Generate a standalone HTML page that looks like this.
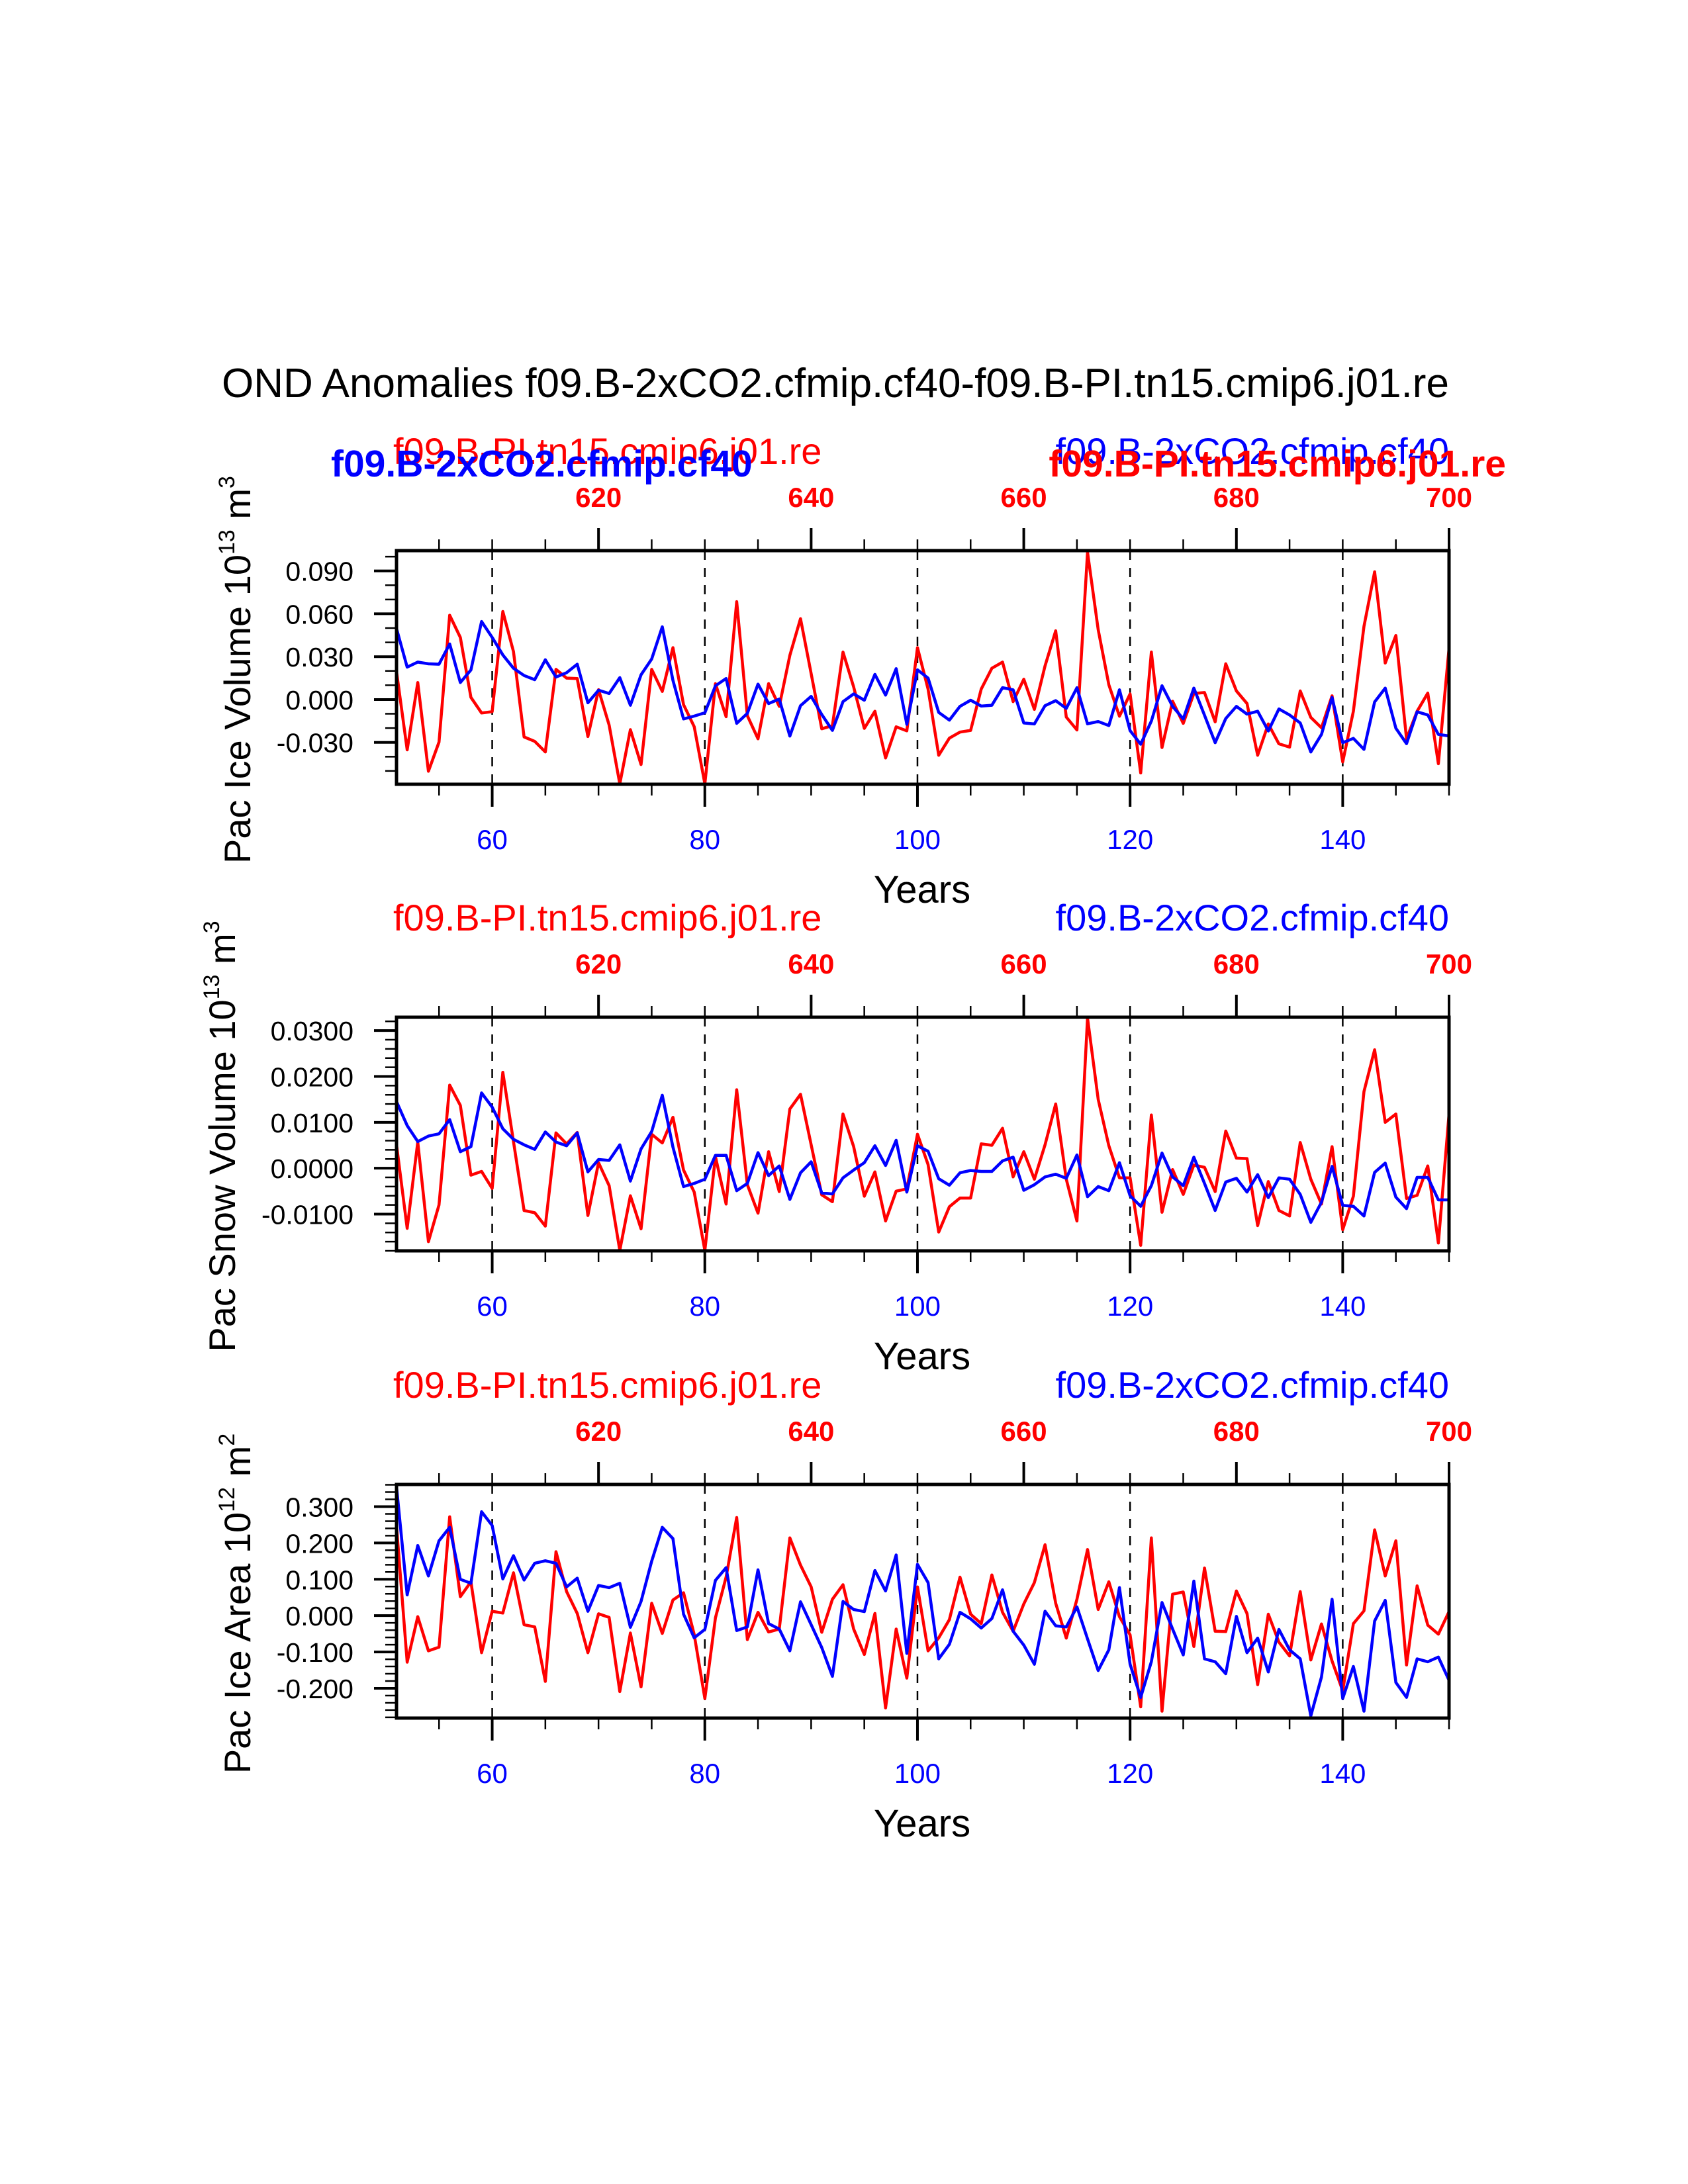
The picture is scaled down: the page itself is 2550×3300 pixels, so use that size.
<!DOCTYPE html>
<html><head><meta charset="utf-8"><title>OND Anomalies</title>
<style>html,body{margin:0;padding:0;background:#fff}svg{display:block}text{font-family:"Liberation Sans",Arial,sans-serif}</style>
</head><body>
<svg id="chart" xmlns="http://www.w3.org/2000/svg" width="2550" height="3300" viewBox="0 0 2550 3300">
<rect x="0" y="0" width="2550" height="3300" fill="#fff"/>
<text x="1262" y="600" font-size="62" text-anchor="middle" fill="#000">OND Anomalies f09.B-2xCO2.cfmip.cf40-f09.B-PI.tn15.cmip6.j01.re</text>
<g id="plots"></g>
</svg>
<script>
// Years (bottom axis, experiment); top axis = year + 550 (control)
const years = Array.from({length:100},(_,i)=>51+i);
const topOffset = 550;
const bottomTickLabels = [60,80,100,120,140];
const topTickLabels = [620,640,660,680,700];

// Panel 1: Pac Ice Volume (units of 0.01 x 10^13 m^3)
const iceVolBlue = [4.97,2.27,2.62,2.5,2.47,3.89,1.19,2.07,5.46,4.35,3.12,2.19,1.68,1.39,2.78,1.57,1.88,2.47,-0.23,0.65,0.42,1.53,-0.4,1.73,2.84,5.09,1.34,-1.36,-1.16,-0.93,0.96,1.47,-1.67,-0.97,1.08,-0.28,0.03,-2.56,-0.43,0.22,-1.05,-2.16,-0.15,0.39,-0.05,1.76,0.31,2.16,-1.74,2.08,1.5,-0.9,-1.44,-0.48,-0.05,-0.46,-0.4,0.83,0.68,-1.64,-1.71,-0.43,-0.08,-0.62,0.83,-1.7,-1.54,-1.82,0.68,-2.18,-3.13,-1.51,0.96,-0.48,-1.36,0.8,-1.1,-3.02,-1.33,-0.48,-1.02,-0.82,-2.2,-0.66,-1.08,-1.64,-3.67,-2.44,0.14,-3.02,-2.72,-3.49,-0.17,0.8,-2.01,-3.09,-0.86,-1.08,-2.44,-2.55];
const iceVolRed = [1.96,-3.52,1.19,-5.02,-2.98,5.9,4.35,0.15,-0.94,-0.85,6.16,3.35,-2.62,-2.93,-3.67,2.11,1.5,1.47,-2.59,0.69,-1.79,-5.9,-2.11,-4.55,2.11,0.57,3.63,-0.36,-1.9,-5.9,1.11,-1.2,6.85,-1.13,-2.75,1.11,-0.48,3.09,5.66,1.81,-2.05,-1.82,3.32,0.88,-2.02,-0.82,-4.09,-1.91,-2.19,3.63,0.73,-3.9,-2.7,-2.28,-2.16,0.73,2.19,2.62,-0.15,1.42,-0.69,2.35,4.81,-1.23,-2.13,10.3,4.89,1.03,-1.17,0.39,-5.14,3.32,-3.36,-0.12,-1.67,0.42,0.49,-1.56,2.5,0.6,-0.28,-3.9,-1.71,-3.1,-3.33,0.6,-1.25,-1.98,0.26,-4.37,-0.82,5.12,8.94,2.55,4.48,-2.75,-0.82,0.45,-4.49,3.58];
const iceVolTicks = ["-0.030","0.000","0.030","0.060","0.090"];

// Panel 2: Pac Snow Volume (units of 0.001 x 10^13 m^3)
const snowBlue = [14.5,9.3,5.8,7.0,7.5,10.6,3.6,4.7,16.4,13.3,8.6,6.3,5.1,4.1,7.9,5.7,4.9,7.7,-0.8,1.9,1.7,5.1,-2.8,4.2,8.0,15.9,4.6,-4.0,-3.3,-2.4,2.8,2.8,-4.9,-3.3,3.4,-1.6,0.5,-6.8,-1.0,1.4,-5.4,-5.6,-2.1,-0.4,1.2,4.9,0.6,6.1,-5.2,4.9,3.7,-2.3,-3.7,-1.0,-0.5,-0.7,-0.7,1.6,2.4,-4.8,-3.6,-1.9,-1.3,-2.2,2.9,-6.2,-4.0,-4.9,1.2,-6.0,-8.3,-3.8,3.3,-1.9,-3.8,2.4,-3.3,-9.2,-3.0,-2.2,-5.2,-1.4,-6.4,-2.1,-2.4,-5.7,-11.8,-7.4,0.4,-8.1,-8.3,-10.4,-0.9,1.1,-6.3,-8.8,-2.0,-2.0,-6.9,-6.9];
const snowRed = [5.1,-13.1,5.7,-16.0,-8.0,18.1,13.7,-1.5,-0.7,-4.4,20.9,5.8,-9.2,-9.7,-12.6,7.7,5.3,7.8,-10.3,1.2,-3.8,-17.9,-6.0,-13.2,7.4,5.5,11.1,-0.4,-5.2,-17.9,2.5,-7.8,17.1,-3.6,-9.8,3.6,-5.1,12.9,16.1,5.1,-5.8,-7.3,11.8,4.7,-6.1,-0.8,-11.5,-5.0,-4.5,7.4,0.8,-13.9,-8.4,-6.5,-6.5,5.3,5.0,8.7,-1.9,3.6,-2.4,5.1,14.0,-2.4,-11.5,32.7,15.0,4.9,-2.1,-2.1,-16.8,11.6,-9.6,-0.3,-5.7,0.7,0.2,-5.1,8.1,2.2,2.1,-12.5,-2.9,-9.2,-10.4,5.6,-2.4,-7.8,4.7,-13.4,-6.1,16.7,25.8,10.0,11.8,-6.6,-5.9,0.5,-16.3,11.8];
const snowTicks = ["-0.0100","0.0000","0.0100","0.0200","0.0300"];

// Panel 3: Pac Ice Area (units of 0.01 x 10^12 m^2)
const areaBlue = [35.5,5.7,19.3,10.9,20.6,24.3,10.0,8.9,28.6,24.8,10.1,16.5,9.8,14.4,15.1,14.4,7.9,10.3,1.2,8.3,7.7,8.9,-3.2,3.9,15.0,24.3,21.2,0.4,-6.1,-3.8,9.7,13.2,-4.1,-3.1,12.6,-2.2,-3.7,-9.7,3.8,-2.5,-8.8,-16.7,3.9,1.7,1.1,12.4,6.8,16.7,-10.4,14.1,9.1,-11.9,-7.9,0.9,-0.9,-3.4,-0.8,7.1,-4.3,-8.1,-13.4,1.2,-2.8,-3.1,2.4,-6.4,-15.1,-9.4,7.7,-13.4,-22.5,-12.7,3.6,-3.7,-10.8,9.5,-11.9,-12.7,-16.0,-0.2,-10.2,-6.2,-15.5,-3.8,-9.4,-11.9,-27.6,-16.9,4.5,-22.8,-14.0,-26.3,-1.5,4.2,-18.4,-22.5,-11.9,-12.7,-11.4,-17.8];
const areaRed = [24.6,-12.8,-0.3,-9.7,-8.7,27.2,5.2,9.3,-10.2,1.2,0.7,11.8,-2.5,-3.1,-18.1,17.6,6.6,0.6,-10.2,0.5,-0.5,-20.9,-4.8,-19.6,3.4,-4.9,4.3,6.3,-5.2,-22.8,-0.6,10.6,27.0,-6.6,0.9,-4.5,-3.7,21.4,13.9,7.9,-4.6,4.5,8.5,-3.7,-10.7,0.6,-25.4,-3.7,-17.2,7.9,-9.7,-6.1,-1.1,10.6,0.4,-2.2,11.2,0.9,-4.3,3.2,9.1,19.5,3.4,-6.2,4.5,18.2,1.7,9.3,-0.3,-5.3,-25.1,21.4,-26.3,5.9,6.5,-8.5,13.1,-4.3,-4.4,6.8,0.6,-19.0,0.4,-7.3,-11.1,6.6,-12.2,-2.3,-12.5,-20.7,-2.2,1.3,23.6,10.9,20.6,-13.6,8.2,-2.6,-5.1,1.1];
const areaTicks = ["-0.200","-0.100","0.000","0.100","0.200","0.300"];

const NS = "http://www.w3.org/2000/svg";
const plots = document.getElementById('plots');
const X0 = 599, X1 = 2189, YMIN = 51, YMAX = 150;
function xScale(yr){ return X0 + (yr - YMIN) * (X1 - X0) / (YMAX - YMIN); }
function mk(tag, attrs, parent){
  const e = document.createElementNS(NS, tag);
  for (const k in attrs) e.setAttribute(k, attrs[k]);
  parent.appendChild(e); return e;
}

const panels = [
  {key:'ice-volume', T:832, blue:iceVolBlue, red:iceVolRed, unit:0.01, vmin:-0.0593, vmax:0.1042, ticks:iceVolTicks, minorStep:0.01,
   title:['Pac Ice Volume 10','13',' m','3'], titleX:378, extra:true},
  {key:'snow-volume', T:1537, blue:snowBlue, red:snowRed, unit:0.001, vmin:-0.0180, vmax:0.0329, ticks:snowTicks, minorStep:0.002,
   title:['Pac Snow Volume 10','13',' m','3'], titleX:355, extra:false},
  {key:'ice-area', T:2243, blue:areaBlue, red:areaRed, unit:0.01, vmin:-0.282, vmax:0.361, ticks:areaTicks, minorStep:0.02,
   title:['Pac Ice Area 10','12',' m','2'], titleX:378, extra:false}
];

panels.forEach(p => {
  const T = p.T, B = T + 353;
  const g = mk('g', {}, plots);
  
  
  const yScale = v => B - (v - p.vmin) / (p.vmax - p.vmin) * (B - T);

  bottomTickLabels.forEach(yr => {
    const l = mk('line', {x1:xScale(yr), x2:xScale(yr), y1:T, y2:B, stroke:'#000', 'stroke-width':2.5, 'stroke-dasharray':'14,12'}, g);
    
    
  });

  [['red', p.red, '#ff0000'], ['blue', p.blue, '#0000ff']].forEach(([nm, arr, col]) => {
    const pts = arr.map((v, i) => xScale(years[i]).toFixed(1) + ',' + yScale(v * p.unit).toFixed(1)).join(' ');
    const pl = mk('polyline', {points:pts, fill:'none', stroke:col, 'stroke-width':4.5, 'stroke-linejoin':'round'}, g);
    
    
  });

  const fr = mk('rect', {x:X0, y:T, width:X1 - X0, height:B - T, fill:'none', stroke:'#000', 'stroke-width':5}, g);
  
  

  for (let yr = 55; yr <= 150; yr += 5) {
    const x = xScale(yr);
    const majB = (yr % 20 === 0 && yr >= 60 && yr <= 140);
    mk('line', {x1:x, x2:x, y1:B, y2:B + (majB ? 34 : 17), stroke:'#000', 'stroke-width':majB ? 4 : 2.5}, g);
    const majT = ((yr + topOffset) % 20 === 0 && yr >= 70);
    mk('line', {x1:x, x2:x, y1:T, y2:T - (majT ? 34 : 17), stroke:'#000', 'stroke-width':majT ? 4 : 2.5}, g);
  }
  bottomTickLabels.forEach(yr => {
    const t = mk('text', {x:xScale(yr), y:B + 98, 'font-size':42, fill:'#0000ff', 'text-anchor':'middle'}, g);
    t.textContent = yr;
    
    
  });
  topTickLabels.forEach(yr => {
    const t = mk('text', {x:xScale(yr - topOffset), y:T - 66, 'font-size':42, 'font-weight':'bold', fill:'#ff0000', 'text-anchor':'middle'}, g);
    t.textContent = yr;
    
    
  });

  const s = p.minorStep;
  for (let k = Math.ceil(p.vmin / s); k * s <= p.vmax; k++) {
    const v = k * s, y = yScale(v);
    const isMaj = p.ticks.some(tk => Math.abs(parseFloat(tk) - v) < s / 10);
    mk('line', {x1:X0, x2:X0 - (isMaj ? 34 : 17), y1:y, y2:y, stroke:'#000', 'stroke-width':isMaj ? 4 : 2.5}, g);
  }
  p.ticks.forEach(tk => {
    const t = mk('text', {x:534, y:yScale(parseFloat(tk)) + 15, 'font-size':41, fill:'#000', 'text-anchor':'end'}, g);
    t.textContent = tk;
    
    
  });

  const xt = mk('text', {x:1393, y:B + 179, 'font-size':58, fill:'#000', 'text-anchor':'middle'}, g);
  xt.textContent = 'Years';
  
  

  const yt = mk('text', {x:0, y:0, 'font-size':56, fill:'#000', 'text-anchor':'middle',
    transform:'translate(' + p.titleX + ',' + (T + 180) + ') rotate(-90)'}, g);
  
  
  const a = mk('tspan', {}, yt); a.textContent = p.title[0];
  const b = mk('tspan', {'font-size':34, dy:-24}, yt); b.textContent = p.title[1];
  const c = mk('tspan', {dy:24}, yt); c.textContent = p.title[2];
  const d = mk('tspan', {'font-size':34, dy:-24}, yt); d.textContent = p.title[3];

  const rl = mk('text', {x:594, y:T - 131, 'font-size':56, fill:'#ff0000'}, g);
  rl.textContent = 'f09.B-PI.tn15.cmip6.j01.re';
  
  
  const bl = mk('text', {x:X1, y:T - 131, 'font-size':56, fill:'#0000ff', 'text-anchor':'end'}, g);
  bl.textContent = 'f09.B-2xCO2.cfmip.cf40';
  
  

  if (p.extra) {
    const eb = mk('text', {x:500, y:T - 112, 'font-size':57, 'font-weight':'bold', fill:'#0000ff'}, g);
    eb.textContent = 'f09.B-2xCO2.cfmip.cf40';
    
    
    const er = mk('text', {x:2275, y:T - 112, 'font-size':57, 'font-weight':'bold', fill:'#ff0000', 'text-anchor':'end'}, g);
    er.textContent = 'f09.B-PI.tn15.cmip6.j01.re';
    
    
  }
});
</script>
</body></html>
